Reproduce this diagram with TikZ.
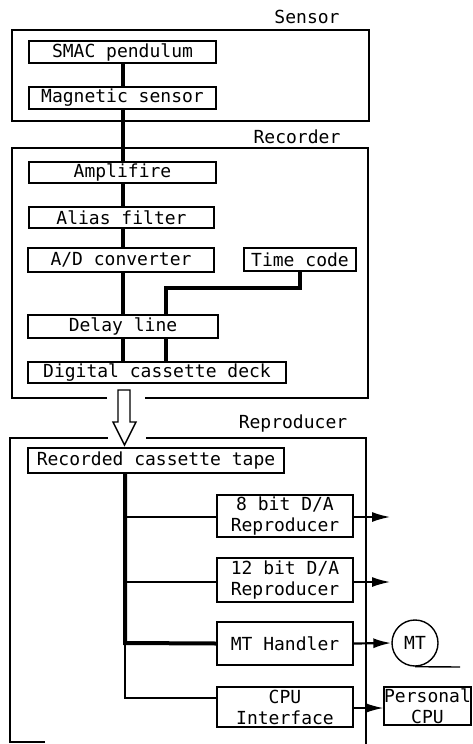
\documentclass[tikz,border=0pt]{standalone}
\usepackage{fontspec}
\setmonofont{DejaVu Sans Mono}
\usetikzlibrary{arrows.meta}
\tikzset{
  blk/.style={draw, line width=1.4pt, inner sep=0pt, align=center,
    font=\ttfamily\fontsize{18}{21}\selectfont},
  grp/.style={line width=1.2pt},
  lbl/.style={inner sep=0pt, font=\ttfamily\fontsize{18}{21}\selectfont},
  thick link/.style={line width=4pt},
  thin link/.style={line width=1.5pt},
  outarrow/.style={line width=1.6pt, -{Latex[length=18pt,width=10pt]}},
}
\begin{document}
\begin{tikzpicture}[x=1pt,y=-1pt]
\useasboundingbox (0,0) rectangle (472,744);

% group boxes
\draw[grp] (12,30) rectangle (369,121);
\node[lbl] (sensorlbl) at (307,17) {Sensor};
\draw[grp] (107,398) -- (12,398) -- (12,148) -- (368,148) -- (368,398) -- (145,398);
\node[lbl] (recorderlbl) at (297,137) {Recorder};
\draw[grp] (45,742) -- (10,742) -- (10,438) -- (108,438);
\draw[grp] (146,438) -- (366,438) -- (366,744);
\node[lbl] (reproducerlbl) at (293,424) {Reproducer};

% blocks
\node[blk, minimum width=187pt, minimum height=22pt] (smac) at (122.5,52) {SMAC pendulum};
\node[blk, minimum width=187pt, minimum height=22pt] (mag) at (122.5,98) {Magnetic sensor};
\node[blk, minimum width=187pt, minimum height=21pt] (amp) at (122.5,172.5) {Amplifire};
\node[blk, minimum width=185pt, minimum height=21pt] (alias) at (121.5,217.5) {Alias filter};
\node[blk, minimum width=186pt, minimum height=24pt] (adc) at (121,260) {A/D converter};
\node[blk, minimum width=112pt, minimum height=23pt] (tc) at (300,259.5) {Time code};
\node[blk, minimum width=190pt, minimum height=23pt] (delay) at (123,326.5) {Delay line};
\node[blk, minimum width=258pt, minimum height=21pt] (deck) at (157,372.5) {Digital cassette deck};
\node[blk, minimum width=256pt, minimum height=25pt] (tape) at (156,460.5) {Recorded cassette tape};
\node[blk, minimum width=136pt, minimum height=42pt] (da8) at (285,516) {8 bit D/A\\Reproducer};
\node[blk, minimum width=136pt, minimum height=44pt] (da12) at (285,580) {12 bit D/A\\Reproducer};
\node[blk, minimum width=136pt, minimum height=43pt] (mth) at (285,643.5) {MT Handler};
\node[blk, minimum width=136pt, minimum height=40pt] (cpuif) at (285,707) {CPU\\Interface};
\node[blk, minimum width=87pt, minimum height=38pt] (pcpu) at (427.5,706) {Personal\\CPU};
\node[blk, circle, minimum size=46pt] (mt) at (415,643) {MT};

% hollow transfer arrow
\draw[line width=1.4pt, fill=white] (118,390) -- (118,422) -- (113,422) -- (124.5,445)
  -- (136,422) -- (130,422) -- (130,390) -- cycle;

% recorder chain
\draw[thick link] (smac.south -| 123,0) -- (mag.north -| 123,0);
\draw[thick link] (mag.south -| 123,0) -- (amp.north -| 123,0);
\draw[thick link] (amp.south -| 123,0) -- (alias.north -| 123,0);
\draw[thick link] (alias.south -| 123,0) -- (adc.north -| 123,0);
\draw[thick link] (adc.south -| 123,0) -- (delay.north -| 123,0);
\draw[thick link] (tc.south) -- (300,288) -- (166,288) -- (delay.north -| 166,0);
\draw[thick link] (delay.south -| 123,0) -- (deck.north -| 123,0);
\draw[thick link] (delay.south -| 166,0) -- (deck.north -| 166,0);

% reproducer distribution
\coordinate (bus) at (125,643);
\draw[thick link] (tape.south -| 125,0) -- (bus) -- (mth.west);
\draw[thin link] (bus) -- (125,698) -- (cpuif.west |- 0,698);
\draw[thin link] (125,517) -- (da8.west |- 0,517);
\draw[thin link] (125,582) -- (da12.west |- 0,582);

% outputs
\coordinate (out8) at (390,517);
\coordinate (out12) at (390,582);
\draw[outarrow] (da8.east |- out8) -- (out8);
\draw[outarrow] (da12.east |- out12) -- (out12);
\draw[outarrow, line width=2.2pt] (mth.east) -- (mt.west);
\draw[outarrow] (cpuif.east |- 0,708) -- (pcpu.west |- 0,708);
\coordinate (tapeend) at (460,667);
\draw[line width=1.4pt] (mt.south) -- (tapeend);
\end{tikzpicture}
\end{document}
